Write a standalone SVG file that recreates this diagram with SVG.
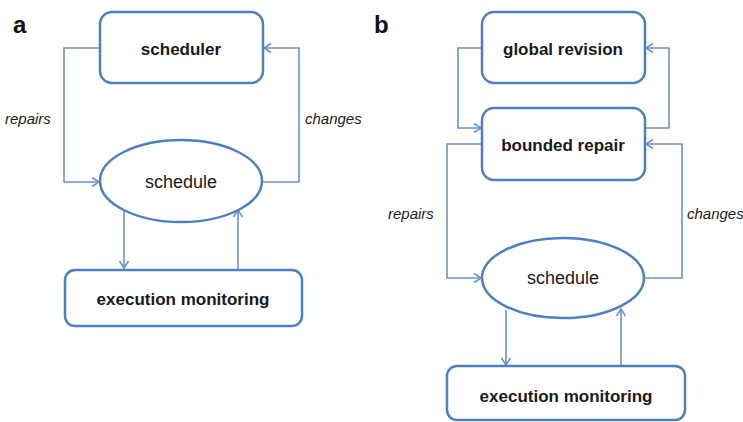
<svg xmlns="http://www.w3.org/2000/svg" width="743" height="422" viewBox="0 0 743 422">
  <style>
    .box { fill: #ffffff; stroke: #4f7fc0; stroke-width: 2.5; }
    .conn { fill: none; stroke: #6b93cf; stroke-width: 1.6; }
    .lbl { font-family: "Liberation Sans", Arial, sans-serif; font-size: 17px; fill: #1a1a1a; text-anchor: middle; dominant-baseline: central; }
    .b { font-weight: bold; }
    .reg { font-size: 18px; }
    .it { font-family: "Liberation Sans", Arial, sans-serif; font-size: 15px; font-style: italic; fill: #1a1a1a; dominant-baseline: central; }
    .panel { font-family: "Liberation Sans", Arial, sans-serif; font-size: 24px; font-weight: bold; fill: #111111; }
  </style>
  <defs>
    <marker id="arr" markerUnits="userSpaceOnUse" markerWidth="12" markerHeight="12" viewBox="0 0 12 12" refX="10" refY="6" orient="auto">
      <path d="M3,1.5 L10,6 L3,10.5" fill="none" stroke="#6b93cf" stroke-width="1.6"/>
    </marker>
  </defs>

  <rect width="743" height="422" fill="#ffffff"/>

  <text class="panel" x="13" y="33">a</text>
  <text class="panel" x="374" y="33">b</text>

  <g id="connectors">
    <!-- panel a -->
    <path class="conn" d="M100,48 H64 V182 H99" marker-end="url(#arr)"/>
    <path class="conn" d="M263,182 H299 V48 H264" marker-end="url(#arr)"/>
    <path class="conn" d="M124,210 V268" marker-end="url(#arr)"/>
    <path class="conn" d="M238,270 V210" marker-end="url(#arr)"/>
    <!-- panel b -->
    <path class="conn" d="M482,48 H458 V128 H481" marker-end="url(#arr)"/>
    <path class="conn" d="M645,128 H669 V48 H646" marker-end="url(#arr)"/>
    <path class="conn" d="M482,144 H447 V278 H481" marker-end="url(#arr)"/>
    <path class="conn" d="M645,278 H682 V144 H646" marker-end="url(#arr)"/>
    <path class="conn" d="M506,310 V365" marker-end="url(#arr)"/>
    <path class="conn" d="M621,366 V309" marker-end="url(#arr)"/>
  </g>

  <text class="it" x="5" y="118">repairs</text>
  <text class="it" x="305" y="118">changes</text>
  <text class="it" x="388" y="213">repairs</text>
  <text class="it" x="687" y="213">changes</text>

  <g id="a-scheduler">
    <rect class="box" x="100" y="12" width="163" height="71" rx="12"/>
    <text class="lbl b" x="181" y="49">scheduler</text>
  </g>
  <g id="a-schedule">
    <ellipse class="box" cx="181" cy="181" rx="81" ry="41"/>
    <text class="lbl reg" x="181" y="182">schedule</text>
  </g>
  <g id="a-execution">
    <rect class="box" x="65" y="270" width="237" height="56" rx="10"/>
    <text class="lbl b" x="183" y="299">execution monitoring</text>
  </g>

  <g id="b-global">
    <rect class="box" x="482" y="12" width="163" height="71" rx="12"/>
    <text class="lbl b" x="563" y="49">global revision</text>
  </g>
  <g id="b-bounded">
    <rect class="box" x="482" y="108" width="163" height="72" rx="12"/>
    <text class="lbl b" x="563" y="145">bounded repair</text>
  </g>
  <g id="b-schedule">
    <ellipse class="box" cx="563" cy="278" rx="81" ry="40"/>
    <text class="lbl reg" x="563" y="278">schedule</text>
  </g>
  <g id="b-execution">
    <rect class="box" x="447" y="366" width="238" height="54" rx="10"/>
    <text class="lbl b" x="566" y="396">execution monitoring</text>
  </g>
</svg>
